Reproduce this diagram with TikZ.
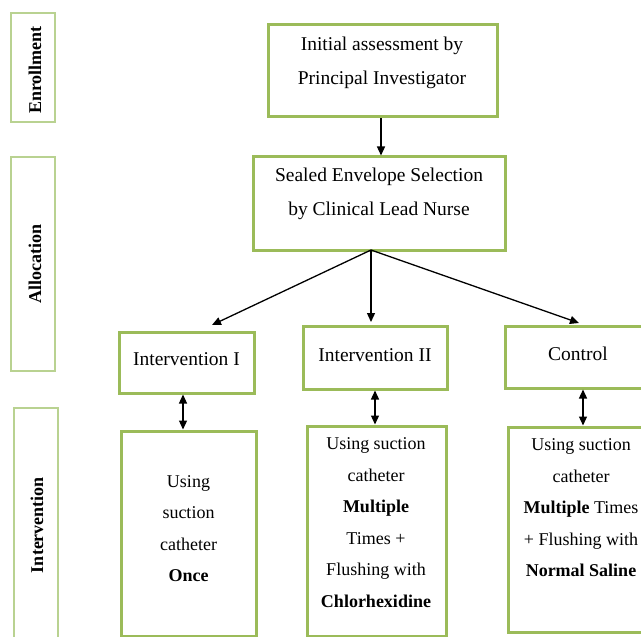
\documentclass[tikz,border=0pt]{standalone}
\usepackage{fontspec}
\setmainfont{Liberation Serif}
\usetikzlibrary{arrows.meta}
\definecolor{boxgreen}{RGB}{155,187,89}
\definecolor{labgreen}{RGB}{185,210,145}
\tikzset{
  mainbox/.style={draw=boxgreen, line width=3bp, rectangle, inner sep=0pt, fill=white},
  labbox/.style={draw=labgreen, line width=1.4bp, rectangle, inner sep=0pt},
  bigtxt/.style={align=center, inner sep=0pt, font=\fontsize{19.5bp}{34bp}\selectfont},
  smalltxt/.style={align=center, inner sep=0pt, font=\fontsize{18bp}{31.5bp}\selectfont},
  labtxt/.style={rotate=90, inner sep=0pt, font=\fontsize{18bp}{20bp}\selectfont\bfseries},
  arr/.style={line width=1.3bp, -{Triangle[length=9bp,width=8bp]}},
  darr/.style={line width=1.3bp, {Triangle[length=9bp,width=8bp]}-{Triangle[length=9bp,width=8bp]}}
}
\begin{document}
\begin{tikzpicture}[x=1bp,y=-1bp]
\useasboundingbox (0,0) rectangle (641,637);
\clip (0,0) rectangle (641,637);
\fill[white] (0,0) rectangle (641,637);

% left stage labels
\node[labbox, minimum width=44bp, minimum height=109bp] (lab1) at (33,67.5) {};
\node[labbox, minimum width=44bp, minimum height=214bp] (lab2) at (33,264) {};
\node[labbox, minimum width=44bp, minimum height=252bp] (lab3) at (36,534) {};
\node[labtxt] (lab1t) at (35,70) {Enrollment};
\node[labtxt] (lab2t) at (35,264) {Allocation};
\node[labtxt] (lab3t) at (37,525) {Intervention};

% main boxes
\node[mainbox, minimum width=229bp, minimum height=92bp] (init) at (382.5,71) {};
\node[mainbox, minimum width=252bp, minimum height=93bp] (sealed) at (379,203.5) {};
\node[mainbox, minimum width=135bp, minimum height=61bp] (int1) at (186.5,362.5) {};
\node[mainbox, minimum width=144bp, minimum height=63bp] (int2) at (375,357.5) {};
\node[mainbox, minimum width=165bp, minimum height=62bp] (ctrl) at (587.5,357) {};
\node[mainbox, minimum width=135bp, minimum height=205bp] (low1) at (188.5,533.5) {};
\node[mainbox, minimum width=139bp, minimum height=210bp] (low2) at (376.5,531) {};
\node[mainbox, minimum width=162bp, minimum height=205bp] (low3) at (589,529.5) {};

% texts
\node[bigtxt] (initt) at (382,63) {Initial assessment by\\Principal Investigator};
\node[bigtxt] (sealedt) at (379,194) {Sealed Envelope Selection\\by Clinical Lead Nurse};
\node[bigtxt] (int1t) at (186.5,359) {Intervention I};
\node[bigtxt] (int2t) at (375,355) {Intervention II};
\node[bigtxt] (ctrlt) at (578,353.5) {Control};
\node[smalltxt] (low1t) at (188.5,528.5) {Using\\suction\\catheter\\\textbf{Once}};
\node[smalltxt] (low2t) at (376,522.5) {Using suction\\catheter\\\textbf{Multiple}\\Times +\\Flushing with\\\textbf{Chlorhexidine}};
\node[smalltxt] (low3t) at (581,508) {Using suction\\catheter\\\textbf{Multiple} Times\\+ Flushing with\\\textbf{Normal Saline}};

% connector points
\coordinate (split) at (371,250);
\coordinate (tip1) at (212,325);
\coordinate (tip2) at (371,322);
\coordinate (tip3) at (579,323);

% connectors
\draw[arr] (init.south -| 381,0) -- (sealed.north -| 381,0);
\draw[arr] (split) -- (tip1);
\draw[arr] (split) -- (tip2);
\draw[arr] (split) -- (tip3);
\draw[darr] (int1.south -| 183,0) -- (low1.north -| 183,0);
\draw[darr] (int2.south -| 375,0) -- (low2.north -| 375,0);
\draw[darr] (ctrl.south -| 583,0) -- (low3.north -| 583,0);
\end{tikzpicture}
\end{document}
